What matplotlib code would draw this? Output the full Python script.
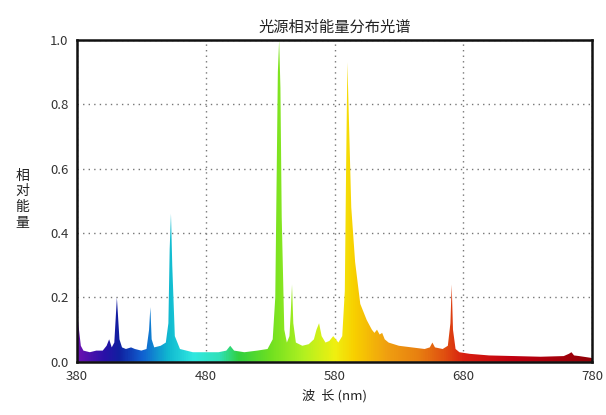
import matplotlib
matplotlib.use('Agg')
import matplotlib.pyplot as plt
import numpy as np
from matplotlib.colors import LinearSegmentedColormap
from matplotlib.patches import Polygon

plt.rcParams['font.family'] = ['Noto Sans CJK SC', 'DejaVu Sans']

# spectrum (wavelength in nm, relative energy)
wavelength = [380, 381, 383, 385, 390, 395, 400, 403, 405, 407, 409, 411, 413, 415,
              418, 422, 425, 430, 434, 436, 437, 438, 440, 445, 449, 451, 452, 453,
              454, 456, 460, 470, 480, 490, 496, 499, 502, 510, 520, 528, 532, 534,
              535, 536, 537, 538, 539, 541, 543, 545, 546, 547, 548, 550, 555, 560,
              564, 566, 568, 570, 573, 576, 579, 581, 583, 586, 588, 589, 590, 591,
              593, 596, 600, 605, 609, 611, 613, 615, 617, 619, 622, 630, 640, 650,
              654, 656, 658, 664, 668, 670, 671, 672, 674, 677, 685, 700, 720, 740,
              758, 762, 764, 766, 770, 775, 780]
energy = [0.18, 0.12, 0.05, 0.035, 0.03, 0.035, 0.035, 0.05, 0.07, 0.045, 0.06, 0.2, 0.07, 0.045,
          0.04, 0.045, 0.04, 0.035, 0.04, 0.1, 0.17, 0.07, 0.045, 0.05, 0.06, 0.12, 0.35, 0.46,
          0.3, 0.08, 0.04, 0.03, 0.03, 0.03, 0.035, 0.05, 0.035, 0.03, 0.035, 0.04, 0.07, 0.2,
          0.55, 0.9, 1.0, 0.85, 0.45, 0.1, 0.06, 0.08, 0.15, 0.24, 0.12, 0.06, 0.05, 0.055,
          0.07, 0.1, 0.12, 0.08, 0.06, 0.065, 0.08, 0.07, 0.06, 0.08, 0.22, 0.6, 0.93, 0.78,
          0.48, 0.31, 0.18, 0.13, 0.1, 0.09, 0.1, 0.085, 0.09, 0.07, 0.06, 0.05, 0.045, 0.04,
          0.045, 0.06, 0.045, 0.04, 0.05, 0.12, 0.24, 0.1, 0.04, 0.03, 0.025, 0.02, 0.018, 0.016,
          0.018, 0.025, 0.03, 0.02, 0.018, 0.015, 0.012]

x_ticks = [380, 480, 580, 680, 780]
y_ticks = [0.0, 0.2, 0.4, 0.6, 0.8, 1.0]

# colour of each wavelength across the plotted range
anchors = [(380, '#6a10b0'), (400, '#2a10a8'), (412, '#1020a0'), (430, '#1060d0'),
           (450, '#10b8d0'), (470, '#30e8e0'), (490, '#30e0b8'), (505, '#30d040'),
           (530, '#70e020'), (555, '#b0f020'), (580, '#f0f010'), (595, '#f8d000'),
           (620, '#f0a010'), (645, '#e88010'), (665, '#e05010'), (680, '#d82010'),
           (720, '#c00010'), (780, '#900008')]
cmap = LinearSegmentedColormap.from_list(
    'spec', [((w - 380) / 400, c) for w, c in anchors])

fig = plt.figure(figsize=(6.06, 4.15), dpi=100)
ax = fig.add_axes([0.127, 0.128, 0.85, 0.776])

verts = np.column_stack([[wavelength[0]] + wavelength + [wavelength[-1]],
                         [0] + energy + [0]])
patch = Polygon(verts, closed=True, facecolor='none', edgecolor='none')
ax.add_patch(patch)
im = ax.imshow(np.linspace(0, 1, 800).reshape(1, -1), extent=[380, 780, 0, 1],
               aspect='auto', cmap=cmap, origin='lower', zorder=2)
im.set_clip_path(patch)

ax.set_xlim(380, 780)
ax.set_ylim(0, 1)
ax.set_xticks(x_ticks)
ax.set_yticks(y_ticks)
ax.set_yticklabels(['%.1f' % v for v in y_ticks])
ax.tick_params(length=0, labelsize=9.5, colors='#333333', pad=6)
ax.grid(True, linestyle=(0, (1, 3)), color='#777777', linewidth=1)
for s in ax.spines.values():
    s.set_linewidth(1.8)
    s.set_color('#111111')
    s.set_zorder(5)

ax.set_title('光源相对能量分布光谱', fontsize=11, color='#222222', pad=6)
ax.set_xlabel('波  长 (nm)', fontsize=9.5, color='#222222', labelpad=4)
fig.text(0.037, 0.52, '相\n对\n能\n量', fontsize=10, color='#222222',
         ha='center', va='center', linespacing=1.15)

fig.savefig('out.png', dpi=100)
